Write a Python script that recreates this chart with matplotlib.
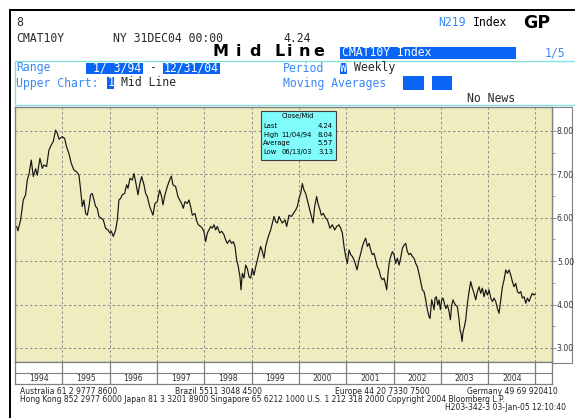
import matplotlib
matplotlib.use("Agg")
import matplotlib.pyplot as plt
from matplotlib.patches import Rectangle

# weekly mid yield of CMAT10Y (decimal year, percent)
years = [
    1994.034, 1994.062, 1994.118, 1994.175, 1994.224, 1994.259, 1994.295, 1994.344, 1994.386, 1994.436,
    1994.471, 1994.527, 1994.577, 1994.612, 1994.668, 1994.717, 1994.767, 1994.809, 1994.858, 1994.894,
    1994.929, 1994.999, 1995.049, 1995.091, 1995.140, 1995.190, 1995.246, 1995.302, 1995.352, 1995.387,
    1995.422, 1995.457, 1995.493, 1995.528, 1995.563, 1995.598, 1995.634, 1995.669, 1995.704, 1995.739,
    1995.774, 1995.824, 1995.866, 1995.915, 1995.965, 1996.007, 1996.035, 1996.078, 1996.127, 1996.162,
    1996.197, 1996.233, 1996.268, 1996.317, 1996.359, 1996.388, 1996.430, 1996.479, 1996.514, 1996.550,
    1996.599, 1996.641, 1996.677, 1996.726, 1996.761, 1996.796,
    1996.846, 1996.916, 1996.958, 1997.008, 1997.057, 1997.099, 1997.127, 1997.170, 1997.219, 1997.268,
    1997.304, 1997.339, 1997.395, 1997.444, 1997.480, 1997.522, 1997.557, 1997.592, 1997.642, 1997.677,
    1997.712, 1997.748, 1997.804, 1997.832, 1997.874, 1997.924, 1997.959, 1997.994, 1998.030, 1998.065,
    1998.100, 1998.135, 1998.171, 1998.206, 1998.241, 1998.276, 1998.326, 1998.368, 1998.417, 1998.452,
    1998.488, 1998.537, 1998.579, 1998.615, 1998.650, 1998.685, 1998.720, 1998.755, 1998.777, 1998.805,
    1998.840, 1998.875, 1998.911, 1998.946, 1998.981, 1999.016, 1999.051, 1999.087, 1999.122, 1999.157,
    1999.192, 1999.228, 1999.263, 1999.298, 1999.354, 1999.404, 1999.439, 1999.474, 1999.509, 1999.545,
    1999.580, 1999.615, 1999.650, 1999.707,
    1999.742, 1999.791, 1999.841, 1999.883, 1999.932, 1999.968, 2000.003, 2000.038, 2000.073, 2000.108,
    2000.144, 2000.179, 2000.214, 2000.249, 2000.299, 2000.334, 2000.376, 2000.404, 2000.447, 2000.475,
    2000.517, 2000.567, 2000.602, 2000.658, 2000.707, 2000.757, 2000.799, 2000.848, 2000.884, 2000.919,
    2000.954, 2000.989, 2001.025, 2001.060, 2001.095, 2001.130, 2001.166, 2001.201, 2001.229, 2001.271,
    2001.307, 2001.342, 2001.377, 2001.412, 2001.448, 2001.483, 2001.518, 2001.553, 2001.589, 2001.624,
    2001.659, 2001.694, 2001.729, 2001.765, 2001.800, 2001.835, 2001.856, 2001.884, 2001.913, 2001.941,
    2001.976, 2002.011, 2002.047, 2002.082, 2002.117, 2002.152, 2002.188, 2002.223, 2002.258, 2002.293,
    2002.328, 2002.364, 2002.399, 2002.434, 2002.469, 2002.505,
    2002.554, 2002.610, 2002.645, 2002.681, 2002.716, 2002.751, 2002.772, 2002.807, 2002.836, 2002.857,
    2002.878, 2002.906, 2002.934, 2002.963, 2002.991, 2003.019, 2003.047, 2003.075, 2003.104, 2003.139,
    2003.174, 2003.202, 2003.230, 2003.259, 2003.287, 2003.315, 2003.350, 2003.386, 2003.407, 2003.428,
    2003.449, 2003.470, 2003.498, 2003.526, 2003.562, 2003.597, 2003.632, 2003.667, 2003.703, 2003.738,
    2003.773, 2003.808, 2003.844, 2003.879, 2003.914, 2003.949, 2003.985, 2004.020, 2004.055, 2004.090,
    2004.125, 2004.161, 2004.196, 2004.231, 2004.266, 2004.302, 2004.337, 2004.372, 2004.407, 2004.443,
    2004.478, 2004.513, 2004.548, 2004.584, 2004.619, 2004.654, 2004.689, 2004.724, 2004.760, 2004.795,
    2004.830, 2004.865, 2004.901, 2004.936, 2004.971, 2004.995,
]
yields = [
    5.80, 5.70, 5.95, 6.41, 6.53, 6.87, 7.00, 7.33, 6.95, 7.13,
    6.98, 7.37, 7.14, 7.22, 7.18, 7.56, 7.68, 7.76, 8.02, 7.95,
    7.81, 7.87, 7.83, 7.63, 7.48, 7.25, 7.10, 7.06, 6.98, 6.64,
    6.26, 6.41, 6.10, 6.06, 6.26, 6.53, 6.56, 6.41, 6.26, 6.22,
    6.03, 5.99, 5.95, 5.76, 5.72, 5.65, 5.69, 5.57, 5.72, 5.95,
    6.41, 6.45, 6.53, 6.56, 6.76, 6.68, 6.91, 6.87, 7.02, 6.83,
    6.53, 6.80, 6.95, 6.76, 6.56, 6.49,
    6.26, 6.06, 6.33, 6.37, 6.64, 6.49, 6.30, 6.53, 6.72, 6.87,
    6.96, 6.76, 6.72, 6.49, 6.41, 6.33, 6.22, 6.37, 6.33, 6.41,
    6.26, 6.06, 6.10, 5.95, 5.84, 5.80, 5.76, 5.68, 5.45, 5.65,
    5.72, 5.80, 5.76, 5.84, 5.72, 5.80, 5.65, 5.69, 5.61, 5.49,
    5.41, 5.49, 5.41, 5.45, 5.34, 5.03, 4.87, 4.64, 4.34, 4.72,
    4.61, 4.91, 4.83, 4.64, 4.61, 4.83, 4.68, 4.87, 5.03, 5.18,
    5.34, 5.22, 5.07, 5.34, 5.57, 5.72, 5.88, 6.03, 5.91, 5.88,
    6.03, 5.95, 5.88, 5.95,
    5.80, 6.06, 6.03, 6.10, 6.18, 6.26, 6.45, 6.56, 6.79, 6.64,
    6.56, 6.41, 6.26, 6.10, 5.88, 6.26, 6.49, 6.33, 6.18, 6.06,
    6.10, 5.99, 5.95, 5.76, 5.84, 5.72, 5.80, 5.84, 5.76, 5.65,
    5.34, 5.11, 4.95, 5.26, 5.15, 5.11, 5.03, 4.91, 4.80, 5.03,
    5.18, 5.34, 5.45, 5.53, 5.34, 5.41, 5.26, 5.15, 5.18, 5.03,
    4.87, 4.80, 4.64, 4.57, 4.61, 4.45, 4.34, 4.72, 4.99, 5.11,
    5.22, 5.15, 4.95, 5.07, 4.91, 5.07, 5.30, 5.37, 5.41, 5.22,
    5.15, 5.18, 5.11, 5.07, 4.95, 4.87,
    4.64, 4.34, 4.30, 4.11, 3.88, 3.72, 3.68, 4.11, 3.99, 3.88,
    4.15, 4.18, 3.99, 4.11, 3.88, 4.11, 4.15, 4.03, 3.91, 3.99,
    3.84, 3.65, 3.99, 4.11, 4.03, 3.99, 3.95, 3.65, 3.41, 3.33,
    3.15, 3.37, 3.49, 3.65, 4.03, 4.30, 4.53, 4.38, 4.26, 4.11,
    4.30, 4.41, 4.26, 4.38, 4.18, 4.34, 4.22, 4.34, 4.15, 4.07,
    4.15, 4.07, 3.91, 3.80, 4.11, 4.41, 4.57, 4.80, 4.72, 4.80,
    4.68, 4.53, 4.41, 4.49, 4.30, 4.26, 4.30, 4.15, 4.18, 4.03,
    4.15, 4.07, 4.18, 4.26, 4.22, 4.24,
]

year_labels = ["1994", "1995", "1996", "1997", "1998", "1999",
               "2000", "2001", "2002", "2003", "2004"]
y_ticks = [3, 4, 5, 6, 7, 8]

stat_names = ["Last", "High", "Average", "Low"]
stat_dates = ["", "11/04/94", "", "06/13/03"]
stat_values = ["4.24", "8.04", "5.57", "3.13"]

footer = [
    "Australia 61 2 9777 8600",
    "Brazil 5511 3048 4500",
    "Europe 44 20 7330 7500",
    "Germany 49 69 920410",
    "Hong Kong 852 2977 6000 Japan 81 3 3201 8900 Singapore 65 6212 1000 U.S. 1 212 318 2000 Copyright 2004 Bloomberg L.P.",
    "H203-342-3 03-Jan-05 12:10:40",
]

W, H = 575, 418
MONO = "DejaVu Sans Mono"
BLUE_TXT = "#3a88f5"
HILITE = "#0a64f5"
CYAN_LN = "#86e3dc"
YELLOW = "#efecc0"
GREY = "#808080"

fig = plt.figure(figsize=(W / 100, H / 100), dpi=100)
fig.patch.set_facecolor("white")


def fx(x):
    return x / W


def fy(y):
    return 1 - y / H


def put(x, y, s, **kw):
    kw.setdefault("family", MONO)
    kw.setdefault("fontsize", 8.3)
    kw.setdefault("color", "#2a2a2a")
    kw.setdefault("va", "center")
    kw.setdefault("zorder", 10)
    fig.text(fx(x), fy(y), s, **kw)


def box(x0, y0, x1, y1, **kw):
    fig.patches.append(Rectangle((fx(x0), fy(y1)), fx(x1) - fx(x0), fy(y0) - fy(y1),
                                 transform=fig.transFigure, figure=fig, **kw))


# black frame lines
box(9, 9, 576, 11, facecolor="black", edgecolor="none")
box(9, 9, 11, 420, facecolor="black", edgecolor="none")

# header
put(16, 22, "8")
put(16, 38, "CMAT10Y")
put(113, 38, "NY 31DEC04 00:00")
put(283, 38, "4.24")
put(438, 23, "N219", color=BLUE_TXT)
put(473, 23, "Index", color="black")
put(523, 23, "GP", family="DejaVu Sans", fontsize=12.5, weight="bold", color="black")
for ch, cx in zip("MidLine", [221, 238, 255, 280, 289, 304, 319]):
    put(cx, 52, ch, family="DejaVu Sans", fontsize=11.5, weight="bold",
        color="black", ha="center")
box(340, 46.5, 516, 59, facecolor=HILITE, edgecolor="none")
put(342, 52.5, "CMAT10Y Index", color="white")
put(545, 52.5, "1/5", color=BLUE_TXT)

# settings panel
box(15, 61, 580, 105, facecolor="none", edgecolor=CYAN_LN, linewidth=1.0)
put(16, 68, "Range", color=BLUE_TXT)
box(86, 62.5, 143, 74, facecolor=HILITE, edgecolor="none")
put(93, 68, "1/ 3/94", color="white")
put(150, 68, "-")
box(163, 62.5, 220, 74, facecolor=HILITE, edgecolor="none")
put(164, 68, "12/31/04", color="white")
put(16, 83, "Upper Chart:", color=BLUE_TXT)
box(107, 77, 114, 89, facecolor=HILITE, edgecolor="none")
put(107.5, 83, "1", color="white")
put(121, 83, "Mid Line")
put(283, 68, "Period", color=BLUE_TXT)
box(340, 62.5, 347, 74, facecolor=HILITE, edgecolor="none")
put(340.5, 68, "W", color="white")
put(354, 68, "Weekly")
put(283, 83, "Moving Averages", color=BLUE_TXT)
box(403, 76, 424, 90, facecolor=HILITE, edgecolor="none")
box(432, 76, 452, 90, facecolor=HILITE, edgecolor="none")
put(467, 98, "No News")

# right label panel (behind the axes so the tick labels stay visible)
box(552, 107, 572, 363, facecolor="white", edgecolor=GREY, linewidth=0.8, zorder=-1)

# main chart
x0, x1 = 1994.0, 2005.35
ax = fig.add_axes([fx(15), fy(362), fx(552) - fx(15), fy(107) - fy(362)])
ax.set_facecolor(YELLOW)
ax.plot(years, yields, color="#151515", linewidth=0.85)
ax.set_xlim(x0, x1)
ax.set_ylim(2.677, 8.553)
for y in y_ticks:
    ax.axhline(y, color="#8a8a8a", linewidth=0.7, linestyle=(0, (2.5, 2.5)), zorder=0)
for i in range(1, len(year_labels) + 1):
    ax.axvline(1994 + i, color="#8a8a8a", linewidth=0.7, linestyle=(0, (2.5, 2.5)), zorder=0)
ax.set_xticks([])
ax.yaxis.tick_right()
ax.set_yticks(y_ticks)
ax.set_yticklabels([f"{v:.2f}" for v in y_ticks])
ax.set_yticks([v + 0.5 for v in y_ticks[:-1]], minor=True)
ax.tick_params(axis="y", which="major", direction="out", length=3, width=0.6,
               color=GREY, labelsize=5.6, labelcolor="#333333", pad=0.5)
ax.tick_params(axis="y", which="minor", direction="out", length=2, width=0.6, color=GREY)
for s in ax.spines.values():
    s.set_color(GREY)
    s.set_linewidth(1.0)

# stats box
box(261, 111, 336, 159.5, facecolor="#80fcfc", edgecolor="#404040", linewidth=0.8, zorder=5)
sb = dict(family="DejaVu Sans", fontsize=4.9, color="black")
put(298, 116.5, "Close/Mid", ha="center", **sb)
for i, (nm, dt, val) in enumerate(zip(stat_names, stat_dates, stat_values)):
    yy = 126 + i * 8.6
    put(263, yy, nm, **sb)
    if dt:
        put(281, yy, dt, **sb)
    put(333, yy, val, ha="right", **sb)

# year strip below the chart
axb = fig.add_axes([fx(15), fy(384), fx(552) - fx(15), fy(362) - fy(384)])
axb.set_xlim(x0, x1)
axb.set_ylim(0, 2)
axb.axhline(1, color=GREY, linewidth=0.8)
for i in range(1, len(year_labels) + 1):
    axb.axvline(1994 + i, color=GREY, linewidth=0.9)
for i, lab in enumerate(year_labels):
    axb.text(1994.5 + i, 0.5, lab, ha="center", va="center", fontsize=5.6, color="#333333")
axb.set_xticks([])
axb.set_yticks([])
for s in axb.spines.values():
    s.set_color(GREY)
    s.set_linewidth(0.9)

# footer
ft = dict(family="DejaVu Sans", fontsize=5.5, color="#222222")
put(20, 392, footer[0], **ft)
put(175, 392, footer[1], **ft)
put(335, 392, footer[2], **ft)
put(467, 392, footer[3], **ft)
put(20, 399.5, footer[4], **ft)
put(566, 407, footer[5], ha="right", **ft)

fig.savefig("out.png", dpi=100)
